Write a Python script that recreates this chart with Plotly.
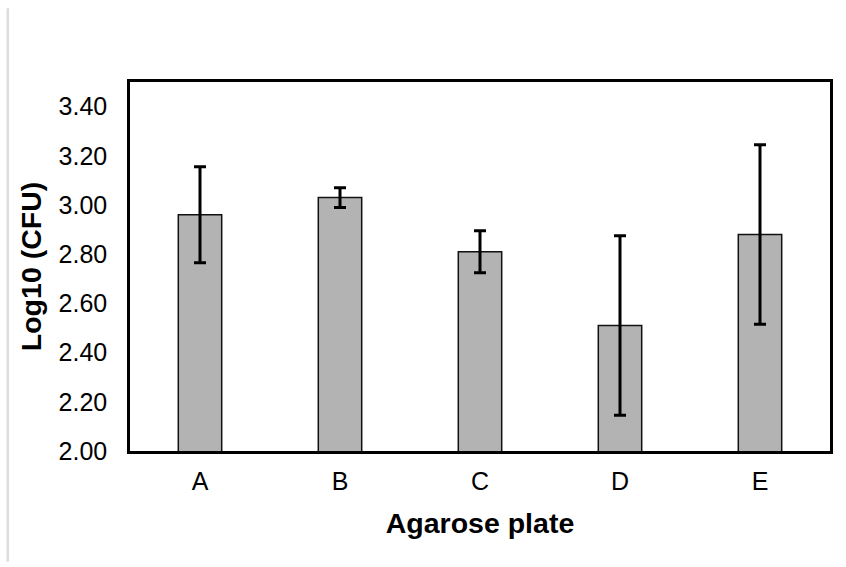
import plotly.graph_objects as go

# Mean log10 colony counts per agarose plate, with standard deviation
plates = ["A", "B", "C", "D", "E"]
log_cfu = [2.96, 3.03, 2.81, 2.51, 2.88]
log_cfu_sd = [0.195, 0.04, 0.085, 0.365, 0.365]

y_ticks = [2.0, 2.2, 2.4, 2.6, 2.8, 3.0, 3.2, 3.4]
y_tick_text = [f"{v:.2f}" for v in y_ticks]

fig = go.Figure(
    go.Bar(
        x=plates,
        y=log_cfu,
        width=0.31,
        marker=dict(color="#b3b3b3", line=dict(color="#111111", width=1.5)),
        error_y=dict(type="data", array=log_cfu_sd, visible=True,
                     color="black", thickness=3, width=6),
    )
)

font_family = "Liberation Sans, Arial, sans-serif"

fig.update_layout(
    width=846,
    height=567,
    margin=dict(l=130, r=16, t=82, b=116),
    paper_bgcolor="white",
    plot_bgcolor="white",
    showlegend=False,
    font=dict(family=font_family, color="black"),
    xaxis=dict(
        showline=True, linecolor="black", linewidth=2.5, mirror=True,
        showgrid=False, ticks="", ticklabelstandoff=6,
        tickfont=dict(size=25),
        title=dict(text="<b>Agarose plate</b>", font=dict(size=28.5), standoff=20),
    ),
    yaxis=dict(
        range=[2.0, 3.5],
        tickvals=y_ticks, ticktext=y_tick_text,
        showline=True, linecolor="black", linewidth=2.5, mirror=True,
        showgrid=False, zeroline=False, ticks="", ticklabelstandoff=15,
        tickfont=dict(size=25),
        title=dict(text="<b>Log10 (CFU)</b>", font=dict(size=28.5), standoff=9),
    ),
    shapes=[
        dict(type="line", xref="paper", yref="paper",
             x0=-0.1746, x1=-0.1746, y0=-0.3, y1=1.2,
             line=dict(color="#dddddd", width=2.5)),
    ],
)

fig.write_html("out.html")
